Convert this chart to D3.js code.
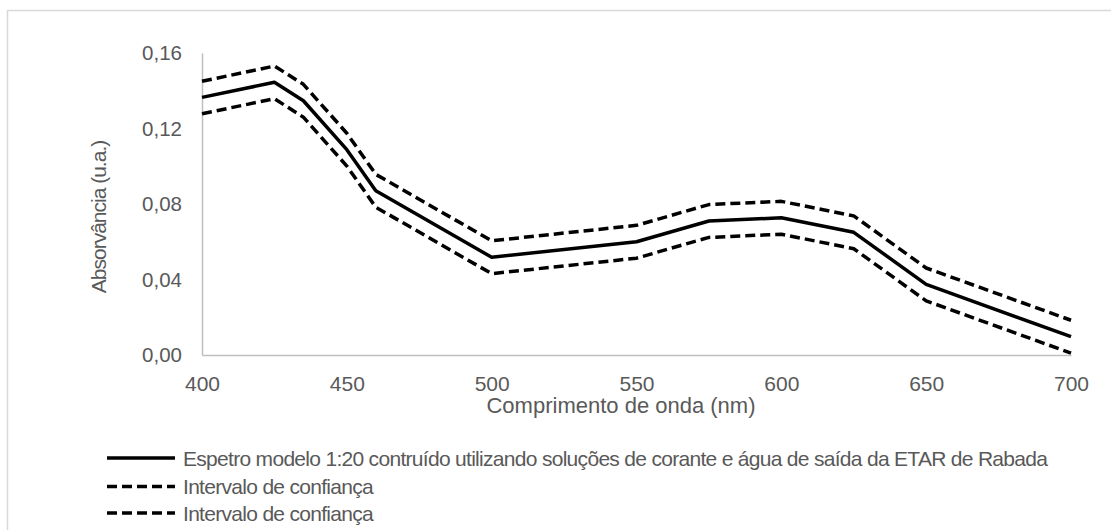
<!DOCTYPE html>
<html>
<head>
<meta charset="utf-8">
<script src="https://cdn.jsdelivr.net/npm/d3@7"></script>
<style>
  html, body { margin: 0; padding: 0; background: #fff; }
  svg { display: block; }
  text { font-family: "Liberation Sans", Arial, sans-serif; fill: #595959; }
</style>
</head>
<body>
<svg id="chart" width="1111" height="530"></svg>
<script>
// Wavelengths (nm) and absorbance readings
const wavelengths = [400, 425, 435, 450, 460, 500, 550, 575, 600, 625, 650, 700];
const spectrum    = [0.1365, 0.1445, 0.1347, 0.1088, 0.0870, 0.0518, 0.0600, 0.0710, 0.0727, 0.0650, 0.0374, 0.0097];
const upperCI     = [0.1450, 0.1531, 0.1434, 0.1175, 0.0957, 0.0605, 0.0687, 0.0797, 0.0814, 0.0737, 0.0461, 0.0184];
const lowerCI     = [0.1278, 0.1358, 0.1260, 0.1001, 0.0783, 0.0431, 0.0513, 0.0623, 0.0640, 0.0563, 0.0287, 0.0010];

const xTicks = [400, 450, 500, 550, 600, 650, 700];
const yTicks = [0, 0.04, 0.08, 0.12, 0.16];

const legendLabels = [
  "Espetro modelo 1:20 contruído utilizando soluções de corante e água de saída da ETAR de Rabada",
  "Intervalo de confiança",
  "Intervalo de confiança"
];

const svg = d3.select("#chart");

// outer chart frame
svg.append("rect")
  .attr("x", 7.5).attr("y", 10.5)
  .attr("width", 1120).attr("height", 540)
  .attr("fill", "none").attr("stroke", "#d9d9d9").attr("stroke-width", 1.5);

const plot = { left: 202, right: 1071, top: 53, bottom: 355 };

const x = d3.scaleLinear().domain([400, 700]).range([plot.left, plot.right]);
const y = d3.scaleLinear().domain([0, 0.16]).range([plot.bottom, plot.top]);

const fmt = d => d3.format(".2f")(d).replace(".", ",");
const labelFont = "'Liberation Sans', Arial, sans-serif";

// y axis
const yAxis = svg.append("g")
  .attr("transform", `translate(${plot.left},0)`)
  .call(d3.axisLeft(y).tickValues(yTicks).tickFormat(fmt).tickSize(0).tickPadding(20));
yAxis.select(".domain").attr("stroke", "#bfbfbf").attr("stroke-width", 1.5);
yAxis.selectAll("text").style("font-size", "20.5px").attr("fill", "#595959")
  .style("font-family", labelFont);

// x axis
const xAxis = svg.append("g")
  .attr("transform", `translate(0,${plot.bottom})`)
  .call(d3.axisBottom(x).tickValues(xTicks).tickFormat(d3.format("d")).tickSize(0).tickPadding(21));
xAxis.select(".domain").attr("stroke", "#bfbfbf").attr("stroke-width", 1.5);
xAxis.selectAll("text").style("font-size", "21px").attr("fill", "#595959")
  .style("font-family", labelFont);

// axis titles
svg.append("text")
  .attr("x", 621).attr("y", 413)
  .attr("text-anchor", "middle").style("font-size", "22px")
  .text("Comprimento de onda (nm)");

svg.append("text")
  .attr("transform", "translate(106,217) rotate(-90)")
  .attr("text-anchor", "middle").style("font-size", "21px")
  .style("letter-spacing", "-1px")
  .text("Absorvância (u.a.)");

// series
const line = d3.line().x(d => x(d[0])).y(d => y(d[1]));
const series = [
  { values: spectrum, dash: null },
  { values: upperCI, dash: "10,5" },
  { values: lowerCI, dash: "10,5" }
];

series.forEach(s => {
  svg.append("path")
    .datum(wavelengths.map((w, i) => [w, s.values[i]]))
    .attr("d", line)
    .attr("fill", "none")
    .attr("stroke", "#000")
    .attr("stroke-width", 3.5)
    .attr("stroke-linejoin", "round")
    .attr("stroke-dasharray", s.dash);
});

// legend
const legend = svg.append("g");
const rowY = [458, 486.5, 513];
legendLabels.forEach((label, i) => {
  const ly = rowY[i];
  legend.append("line")
    .attr("x1", 107).attr("x2", 175).attr("y1", ly).attr("y2", ly)
    .attr("stroke", "#000").attr("stroke-width", 3.5)
    .attr("stroke-dasharray", series[i].dash);
  legend.append("text")
    .attr("x", 183).attr("y", ly).attr("dy", "0.36em")
    .style("font-size", "21px")
    .style("letter-spacing", "-0.7px")
    .text(label);
});
</script>
</body>
</html>
